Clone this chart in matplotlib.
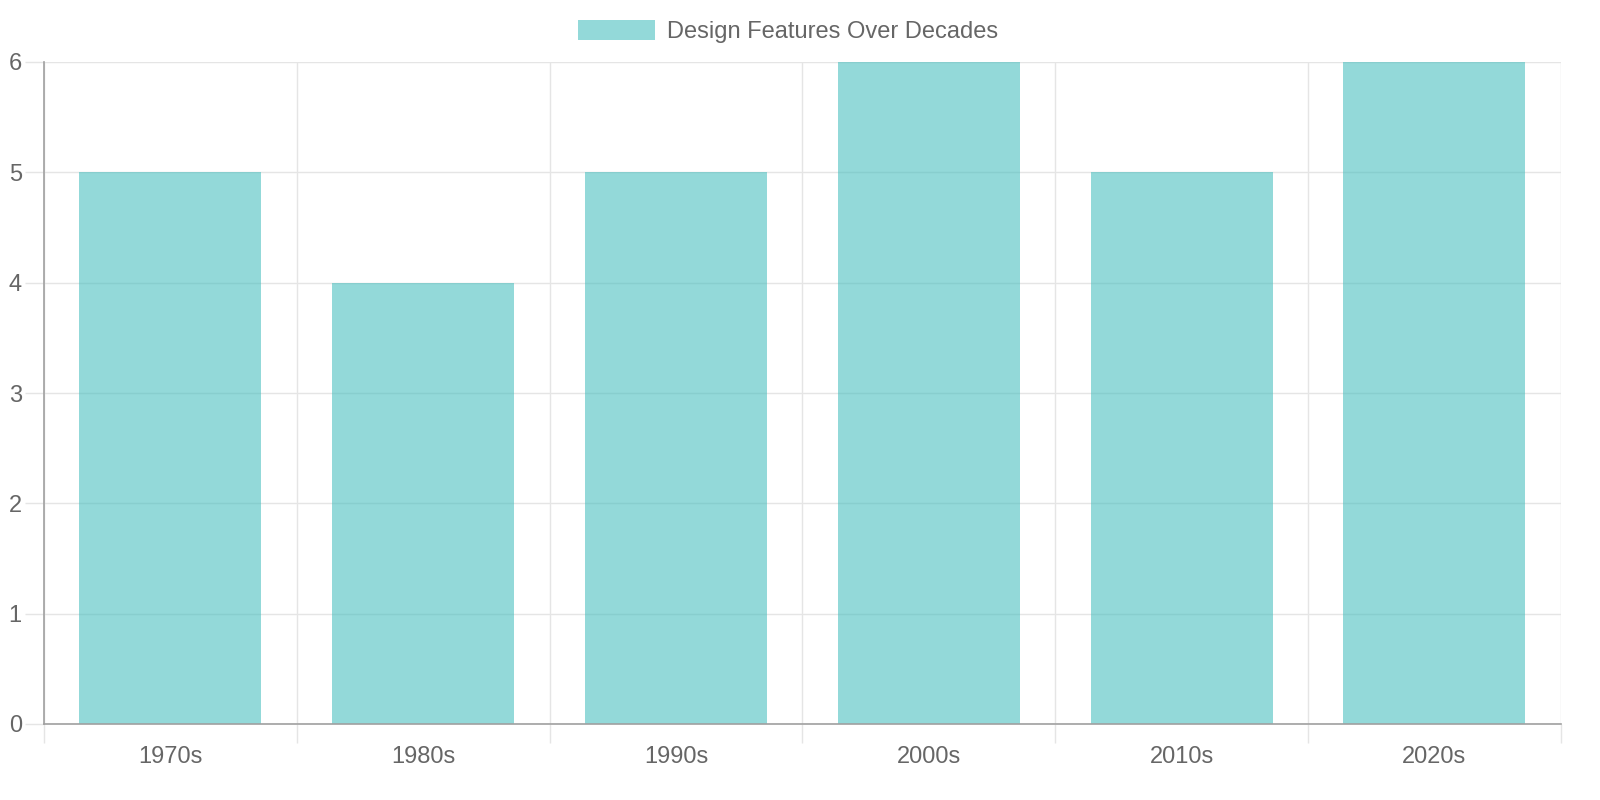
import matplotlib
matplotlib.use("Agg")
import matplotlib.pyplot as plt
from matplotlib.patches import Patch

# data
decades = ["1970s", "1980s", "1990s", "2000s", "2010s", "2020s"]
features = [5, 4, 5, 6, 5, 6]
series_label = "Design Features Over Decades"
y_ticks = [0, 1, 2, 3, 4, 5, 6]

plt.rcParams["font.family"] = ["Liberation Sans", "DejaVu Sans"]

BAR = (75 / 255, 192 / 255, 192 / 255, 0.6)
GRID = "#E5E5E5"
AXIS = "#A0A0A0"
TEXT = "#666666"

fig = plt.figure(figsize=(16, 8), dpi=100)
ax = fig.add_axes([0.0275, 0.095, 0.948, 0.8275])

x = list(range(len(decades)))
ax.bar(x, features, width=0.72, color=BAR, linewidth=0, zorder=2)

ax.set_xlim(-0.5, len(decades) - 0.5)
ax.set_ylim(0, 6)

# category boundaries as major ticks (grid), labels on minor ticks
ax.set_xticks([i - 0.5 for i in range(len(decades) + 1)])
ax.set_xticklabels([])
ax.set_xticks(x, minor=True)
ax.set_xticklabels(decades, minor=True)
ax.tick_params(axis="x", which="major", length=14, width=1, color=GRID)
ax.tick_params(axis="x", which="minor", length=0, pad=16, labelsize=17, labelcolor=TEXT)

ax.set_yticks(y_ticks)
ax.tick_params(axis="y", length=14, width=1, color=GRID, pad=2, labelsize=17, labelcolor=TEXT)

ax.grid(True, which="major", color=GRID, linewidth=1, zorder=0)
ax.set_axisbelow(True)

for s in ("top", "right"):
    ax.spines[s].set_visible(False)
for s in ("left", "bottom"):
    ax.spines[s].set_color(AXIS)
    ax.spines[s].set_linewidth(1.2)

handle = Patch(facecolor=BAR, edgecolor="none", label=series_label)
fig.legend(
    handles=[handle],
    loc="center",
    bbox_to_anchor=(0.4925, 0.961),
    frameon=False,
    fontsize=17,
    labelcolor=TEXT,
    handlelength=3.3,
    handleheight=0.93,
    handletextpad=0.5,
)

fig.savefig("out.png", dpi=100)
